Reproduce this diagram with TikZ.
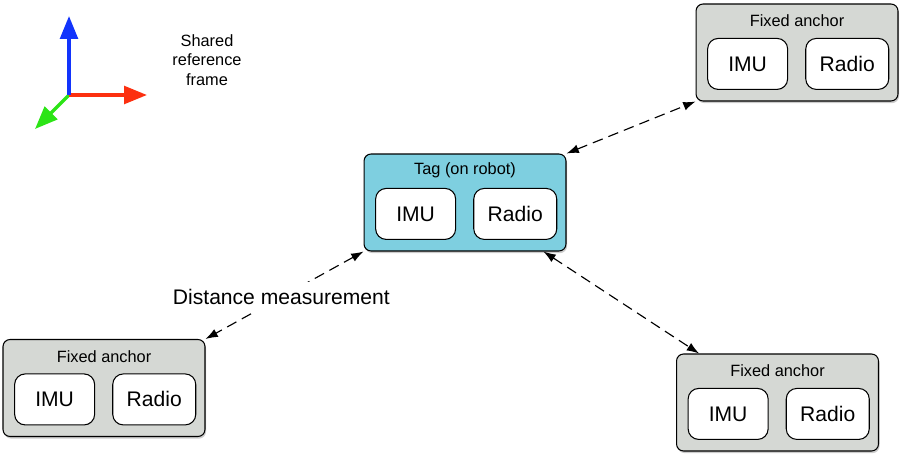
\documentclass[tikz,border=0pt]{standalone}
\usepackage{fontspec}
\setmainfont{Liberation Sans}
\usetikzlibrary{arrows.meta,shadows}
\definecolor{tagblue}{RGB}{126,207,224}
\definecolor{anchorgray}{RGB}{213,216,212}
\definecolor{axisred}{RGB}{252,48,16}
\definecolor{axisgreen}{RGB}{44,228,22}
\definecolor{axisblue}{RGB}{18,52,252}
\tikzset{
  unit/.style={draw=black, line width=0.6pt, rounded corners=4pt,
    minimum width=4.04cm, minimum height=1.94cm,
    drop shadow={shadow xshift=0.6pt, shadow yshift=-1.2pt, opacity=0.4}},
  part/.style={draw=black, line width=0.6pt, fill=white, rounded corners=6pt,
    minimum height=1.02cm, font=\fontsize{12}{14}\selectfont},
  unittitle/.style={font=\fontsize{9.3}{11}\selectfont},
  rangeline/.style={dash pattern=on 6pt off 3.5pt, line width=0.65pt,
    {Latex[length=7pt,width=5pt]}-{Latex[length=7pt,width=5pt]}},
  axis/.style={line width=2pt, -{Triangle[length=13pt,width=10pt]}}
}
\begin{document}
\begin{tikzpicture}[x=0.02cm,y=-0.02cm]
  \useasboundingbox (0,0) rectangle (901,456);

  % reference frame
  \coordinate (origin) at (69,95);
  \coordinate (xtip) at (147,95);
  \coordinate (ytip) at (35,129);
  \coordinate (ztip) at (69,16);
  \draw[axis,axisgreen] (origin) -- (ytip);
  \draw[axis,axisred] (origin) -- (xtip);
  \draw[axis,axisblue] (origin) -- (ztip);
  \node[unittitle, align=center] (frame) at (207,60) {Shared\\reference\\frame};

  % tag and fixed anchors
  \foreach \n/\p/\c/\t in {tag/{(465,202.5)}/tagblue/{Tag (on robot)},
      fixtr/{(797,52.5)}/anchorgray/{Fixed anchor},
      fixbl/{(104,388)}/anchorgray/{Fixed anchor},
      fixbr/{(777.5,402.5)}/anchorgray/{Fixed anchor}} {
    \node[unit, fill=\c] (\n) at \p {};
    \node[unittitle] (\n-title) at ([yshift=18.1pt]\n.center) {\t};
    \node[part, minimum width=1.6cm] (\n-imu) at ([xshift=-28.1pt,yshift=-6.5pt]\n.center) {IMU};
    \node[part, minimum width=1.66cm] (\n-radio) at ([xshift=28.6pt,yshift=-6.5pt]\n.center) {Radio};
  }

  % distance measurements
  \draw[rangeline] (tag.north east) -- (fixtr.south west);
  \draw[rangeline] (tag.-32) -- (fixbr.148);
  \draw[rangeline] (tag.south west) -- node[pos=0.52, fill=white, inner sep=4pt,
    font=\fontsize{12}{14}\selectfont] (dist) {Distance measurement} (fixbl.north east);
\end{tikzpicture}
\end{document}
